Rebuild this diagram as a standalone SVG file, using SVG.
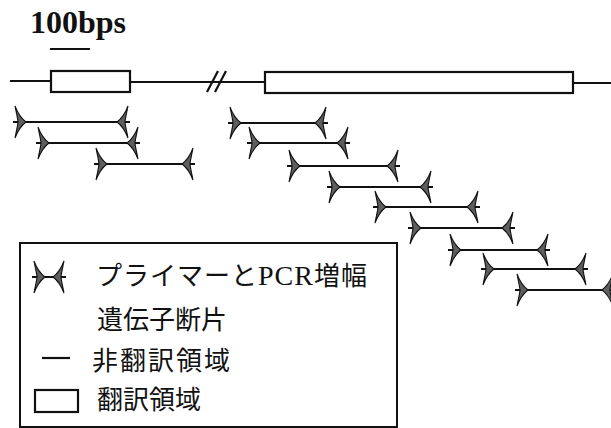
<svg xmlns="http://www.w3.org/2000/svg" xmlns:xlink="http://www.w3.org/1999/xlink" width="611" height="428" viewBox="0 0 611 428">
<style>
.ln{stroke:#111;stroke-width:2.2;fill:none}
.bx{stroke:#111;stroke-width:2.2;fill:#fff}
.hd{fill:#5e5e5e;stroke:#111;stroke-width:1.1;stroke-linejoin:miter}
.jp{font-family:"Noto Sans CJK JP","Noto Sans CJK SC",sans-serif;font-size:26px;fill:#111}
.sr{font-family:"Liberation Serif",serif}
</style>
<defs>
<path id="pr" class="hd" d="M11,0 C7,-3 3,-8 0,-16 C2,-6 3,-2 3,0 C3,2 2,6 0,16 C3,8 7,3 11,0Z"/>
<path id="pl" class="hd" d="M-11,0 C-7,-3 -3,-8 0,-16 C-2,-6 -3,-2 -3,0 C-3,2 -2,6 0,16 C-3,8 -7,3 -11,0Z"/>
</defs>
<rect width="611" height="428" fill="#fff"/>
<g id="scale">
<text x="30" y="33" class="sr" font-size="32" font-weight="bold" fill="#111">100bps</text>
<line class="ln" x1="50" y1="49" x2="90" y2="49"/>
</g>
<g id="gene">
<line class="ln" x1="10" y1="81" x2="51" y2="81"/>
<line class="ln" x1="130" y1="82" x2="265" y2="82"/>
<line class="ln" x1="573" y1="83" x2="611" y2="83"/>
<line class="ln" x1="207" y1="92" x2="218" y2="71"/>
<line class="ln" x1="215" y1="92" x2="226" y2="71"/>
<rect class="bx" x="51" y="71" width="79" height="21"/>
<rect class="bx" x="265" y="72" width="308" height="21"/>
</g>
<g id="fragments">
<g id="f1"><line class="ln" x1="13" y1="122" x2="130" y2="122"/><use href="#pr" x="15" y="122"/><use href="#pl" x="128" y="122"/></g>
<g id="f2"><line class="ln" x1="36" y1="143" x2="140" y2="143"/><use href="#pr" x="38" y="143"/><use href="#pl" x="138" y="143"/></g>
<g id="f3"><line class="ln" x1="94" y1="164" x2="195" y2="164"/><use href="#pr" x="96" y="164"/><use href="#pl" x="193" y="164"/></g>
<g id="f4"><line class="ln" x1="228" y1="123" x2="328" y2="123"/><use href="#pr" x="230" y="123"/><use href="#pl" x="326" y="123"/></g>
<g id="f5"><line class="ln" x1="247" y1="143" x2="350" y2="143"/><use href="#pr" x="249" y="143"/><use href="#pl" x="348" y="143"/></g>
<g id="f6"><line class="ln" x1="287" y1="166" x2="400" y2="166"/><use href="#pr" x="289" y="166"/><use href="#pl" x="398" y="166"/></g>
<g id="f7"><line class="ln" x1="327" y1="187" x2="433" y2="187"/><use href="#pr" x="329" y="187"/><use href="#pl" x="431" y="187"/></g>
<g id="f8"><line class="ln" x1="373" y1="207" x2="480" y2="207"/><use href="#pr" x="375" y="207"/><use href="#pl" x="478" y="207"/></g>
<g id="f9"><line class="ln" x1="408" y1="228" x2="515" y2="228"/><use href="#pr" x="410" y="228"/><use href="#pl" x="513" y="228"/></g>
<g id="f10"><line class="ln" x1="448" y1="250" x2="550" y2="250"/><use href="#pr" x="450" y="250"/><use href="#pl" x="548" y="250"/></g>
<g id="f11"><line class="ln" x1="481" y1="269" x2="588" y2="269"/><use href="#pr" x="483" y="269"/><use href="#pl" x="586" y="269"/></g>
<g id="f12"><line class="ln" x1="515" y1="290" x2="611" y2="290"/><use href="#pr" x="517" y="290"/><use href="#pl" x="613" y="290"/></g>
</g>
<g id="legend">
<rect x="20" y="243" width="377" height="184" fill="none" stroke="#111" stroke-width="2"/>
<g id="leg-primer"><line class="ln" x1="32" y1="277" x2="66" y2="277"/><use href="#pr" x="34" y="277"/><use href="#pl" x="64" y="277"/></g>
<text class="jp" x="96" y="285" letter-spacing="1">プライマーと<tspan class="sr" font-size="28">PCR</tspan>増幅</text>
<text class="jp" x="97" y="329">遺伝子断片</text>
<g id="leg-utr"><line class="ln" x1="42" y1="358" x2="70" y2="358"/></g>
<text class="jp" x="92" y="370" letter-spacing="2">非翻訳領域</text>
<g id="leg-cds"><rect class="bx" x="35" y="390" width="43" height="22"/></g>
<text class="jp" x="97" y="409">翻訳領域</text>
</g>
</svg>
